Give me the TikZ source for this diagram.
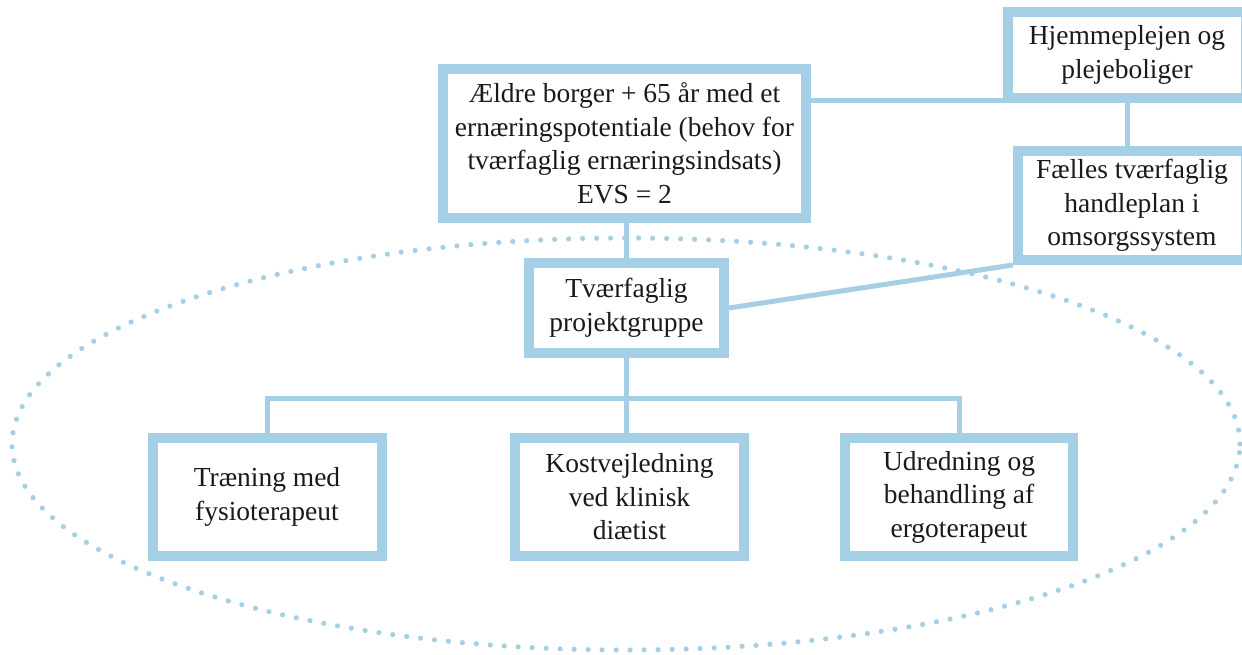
\documentclass[tikz,border=0pt]{standalone}
\usepackage{fontspec}
\setmainfont{Liberation Serif}
\usetikzlibrary{calc}
\definecolor{frame}{RGB}{164,207,229}
\definecolor{ink}{RGB}{26,26,26}
\tikzset{
  box/.style={draw=frame, line width=10pt, fill=white, inner sep=0pt,
    align=center, text=ink, font=\fontsize{27.5}{33.5}\selectfont},
  link/.style={draw=frame, line width=5pt},
  dotring/.style={draw=frame, line width=5.2pt, line cap=round,
    dash pattern=on 0pt off 14pt}
}
\begin{document}
\begin{tikzpicture}[x=1pt, y=-1pt]
  \useasboundingbox (0,0) rectangle (1242,655);
  \clip (0,0) rectangle (1242,655);

  % dotted ring around the project group
  \draw[dotring] (626,444) ellipse [x radius=614pt, y radius=206pt];

  % boxes
  \node[box, minimum width=363pt, minimum height=149pt] (citizen) at (624.5,143.5)
    {Ældre borger + 65 år med et\\ernæringspotentiale (behov for\\tværfaglig ernæringsindsats)\\EVS = 2};
  \node[box, minimum width=238pt, minimum height=86pt] (home) at (1127,55)
    {Hjemmeplejen og\\plejeboliger};
  \node[box, minimum width=228pt, minimum height=109pt] (plan) at (1132,205.5)
    {Fælles tværfaglig\\handleplan i\\omsorgssystem};
  \node[box, minimum width=195pt, minimum height=90pt] (group) at (626.5,308)
    {Tværfaglig\\projektgruppe};
  \node[box, minimum width=229pt, minimum height=118pt] (physio) at (267,497)
    {Træning med\\fysioterapeut};
  \node[box, minimum width=229pt, minimum height=118pt] (diet) at (629.5,497)
    {Kostvejledning\\ved klinisk\\diætist};
  \node[box, minimum width=228pt, minimum height=118pt] (ergo) at (959,497)
    {Udredning og\\behandling af\\ergoterapeut};

  % connectors
  \coordinate (bus) at (628,398);
  \draw[link] (citizen.east |- 0,100.5) -- (home.west |- 0,100.5);
  \draw[link] (home.south) -- (home.south |- plan.north);
  \draw[link] (group.east) -- (plan.south west);
  \draw[link] (group.north) -- (group.north |- citizen.south);
  \draw[link] (group.south) -- (group.south |- diet.north);
  \draw[link] (physio.north) |- (bus) -| (ergo.north);
\end{tikzpicture}
\end{document}
